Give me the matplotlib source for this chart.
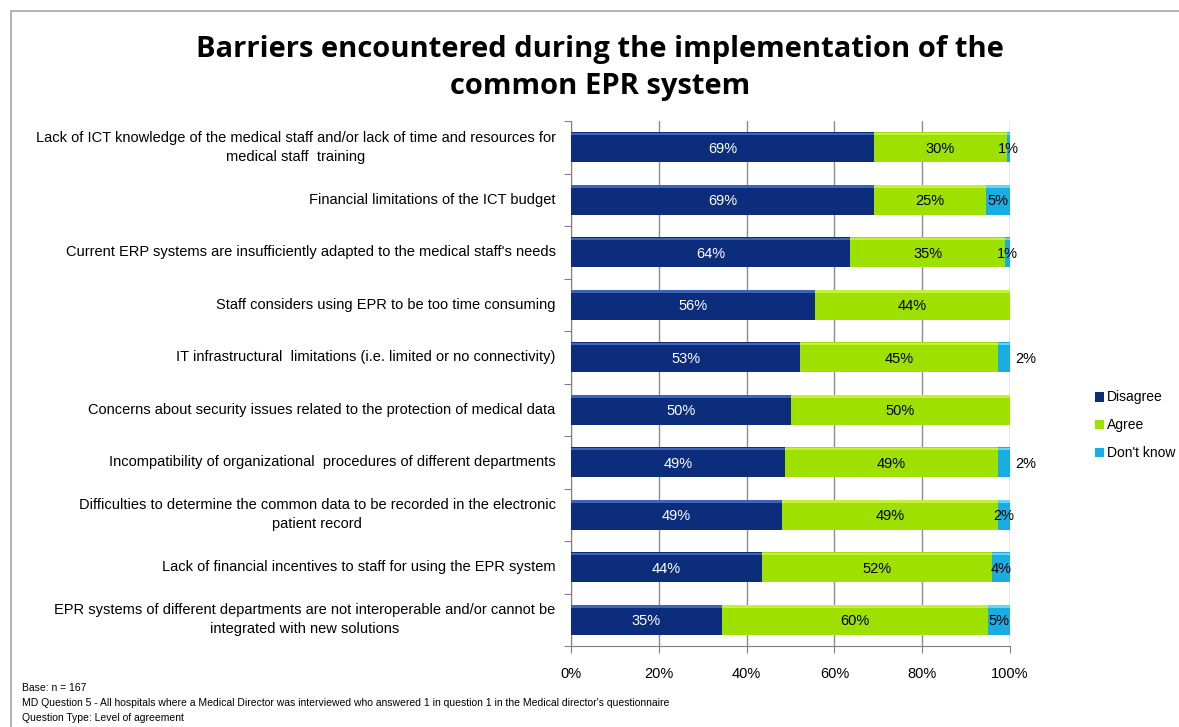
import matplotlib.pyplot as plt
import numpy as np
from matplotlib.patches import Rectangle

plt.rcParams["font.family"] = ["Liberation Sans Narrow", "Liberation Sans", "DejaVu Sans"]

categories = [
    "Lack of ICT knowledge of the medical staff and/or lack of time and resources for\nmedical staff  training",
    "Financial limitations of the ICT budget",
    "Current ERP systems are insufficiently adapted to the medical staff's needs",
    "Staff considers using EPR to be too time consuming",
    "IT infrastructural  limitations (i.e. limited or no connectivity)",
    "Concerns about security issues related to the protection of medical data",
    "Incompatibility of organizational  procedures of different departments",
    "Difficulties to determine the common data to be recorded in the electronic\npatient record",
    "Lack of financial incentives to staff for using the EPR system",
    "EPR systems of different departments are not interoperable and/or cannot be\nintegrated with new solutions",
]
# bar lengths (%)
disagree = [69.0, 69.0, 63.6, 55.6, 52.2, 50.1, 48.7, 48.1, 43.5, 34.4]
agree = [30.3, 25.5, 35.3, 44.4, 45.1, 49.9, 48.6, 49.2, 52.4, 60.6]
dont_know = [0.7, 5.5, 1.1, 0.0, 2.7, 0.0, 2.7, 2.7, 4.1, 5.0]
# printed labels
disagree_lbl = ["69%", "69%", "64%", "56%", "53%", "50%", "49%", "49%", "44%", "35%"]
agree_lbl = ["30%", "25%", "35%", "44%", "45%", "50%", "49%", "49%", "52%", "60%"]
dont_know_lbl = ["1%", "5%", "1%", "", "2%", "", "2%", "2%", "4%", "5%"]
dont_know_outside = [False, False, False, False, True, False, True, False, False, False]

series = [
    ("Disagree", disagree, disagree_lbl, "#0b2d7c", "#3f63b8", "white"),
    ("Agree", agree, agree_lbl, "#9ee000", "#c6ef3c", "black"),
    ("Don't know", dont_know, dont_know_lbl, "#19ade4", "#62d4f7", "black"),
]

W, H = 1179, 727
fig = plt.figure(figsize=(W / 100, H / 100), dpi=100)
ax = fig.add_axes([571 / W, 1 - 646 / H, (1010 - 571) / W, (646 - 121) / H])

y = np.arange(len(categories))
bar_h = 0.58
left = np.zeros(len(categories))
for name, vals, lbls, col, hi, tcol in series:
    vals = np.array(vals)
    ax.barh(y, vals, left=left, height=bar_h, color=col, edgecolor="none", label=name, zorder=3)
    # bevel highlight along the top edge
    ax.barh(y - bar_h / 2 + 0.04, vals, left=left, height=0.05, color=hi, edgecolor="none", zorder=4)
    for i, (v, t) in enumerate(zip(vals, lbls)):
        if not t:
            continue
        cx = left[i] + v / 2
        if name == "Don't know" and dont_know_outside[i]:
            cx = 103.5
        ax.text(cx, y[i] + 0.03, t, ha="center", va="center", color=tcol, fontsize=10.5, zorder=5)
    left += vals

ax.set_xlim(0, 100)
ax.set_ylim(len(categories) - 0.5, -0.5)
ax.set_xticks(np.arange(0, 101, 20))
ax.set_xticklabels([f"{v}%" for v in range(0, 101, 20)], fontsize=10.5)
ax.set_yticks(np.arange(-0.5, len(categories), 1.0))
ax.set_yticklabels([])
ax.tick_params(axis="y", length=5, color="#808080")
ax.tick_params(axis="x", length=5, color="#808080", pad=10)
ax.grid(axis="x", color="#8c8c8c", linewidth=1, zorder=0)
for s in ["top", "right"]:
    ax.spines[s].set_visible(False)
for s in ["left", "bottom"]:
    ax.spines[s].set_color("#808080")

for i, c in enumerate(categories):
    ax.text(-3.5, y[i], c, ha="right", va="center", multialignment="center", fontsize=10.5,
            color="black", linespacing=1.45)

handles, labels = ax.get_legend_handles_labels()
fig.legend(handles, labels, loc="upper left", bbox_to_anchor=(1082 / W, 1 - 378 / H), frameon=False,
           fontsize=10, handlelength=0.7, handleheight=0.7, handletextpad=0.2, labelspacing=1.0)

fig.text(600 / W, 1 - 68 / H, "Barriers encountered during the implementation of the\ncommon EPR system",
         ha="center", va="center", fontsize=21, fontweight="bold", linespacing=1.35,
         family=["Open Sans", "DejaVu Sans"])

notes = [
    "Base: n = 167",
    "MD Question 5 - All hospitals where a Medical Director was interviewed who answered 1 in question 1 in the Medical director's questionnaire",
    "Question Type: Level of agreement",
]
for k, n in enumerate(notes):
    fig.text(22 / W, 1 - (688 + 15 * k) / H, n, ha="left", va="center", fontsize=7.5)

fig.patches.append(Rectangle((11 / W, -0.01), 1.1, 1 - 11 / H + 0.01, transform=fig.transFigure,
                             fill=False, edgecolor="#a6a6a6", linewidth=1.2))

fig.savefig("out.png", dpi=100)
